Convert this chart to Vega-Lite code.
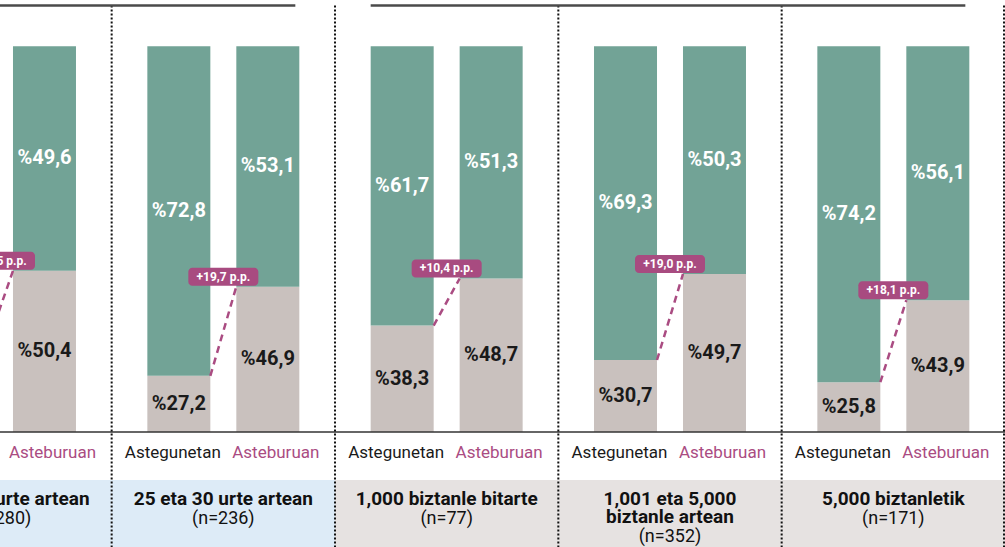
{
  "$schema": "https://vega.github.io/schema/vega-lite/v6.json",
  "width": 1005,
  "height": 547,
  "autosize": "none",
  "padding": 0,
  "background": "white",
  "config": {"view": {"stroke": null}, "axis": {"disable": true}, "font": "Roboto"},
  "datasets": {
    "bars": [
      {"panel": "18-24", "period": "Astegunetan", "beige": 33.9, "green": 66.1},
      {"panel": "18-24", "period": "Asteburuan", "beige": 50.4, "green": 49.6},
      {"panel": "25-30", "period": "Astegunetan", "beige": 27.2, "green": 72.8},
      {"panel": "25-30", "period": "Asteburuan", "beige": 46.9, "green": 53.1},
      {"panel": "-1000", "period": "Astegunetan", "beige": 38.3, "green": 61.7},
      {"panel": "-1000", "period": "Asteburuan", "beige": 48.7, "green": 51.3},
      {"panel": "1001-5000", "period": "Astegunetan", "beige": 30.7, "green": 69.3},
      {"panel": "1001-5000", "period": "Asteburuan", "beige": 49.7, "green": 50.3},
      {"panel": "5000+", "period": "Astegunetan", "beige": 25.8, "green": 74.2},
      {"panel": "5000+", "period": "Asteburuan", "beige": 43.9, "green": 56.1}
    ],
    "panels": [
      {"panel": "18-24", "group": "adina", "title": ["18 eta 24 urte artean"], "n": "(n=280)", "weekday": 33.9, "weekend": 50.4, "diff": "+16,5 p.p."},
      {"panel": "25-30", "group": "adina", "title": ["25 eta 30 urte artean"], "n": "(n=236)", "weekday": 27.2, "weekend": 46.9, "diff": "+19,7 p.p."},
      {"panel": "-1000", "group": "tamaina", "title": ["1,000 biztanle bitarte"], "n": "(n=77)", "weekday": 38.3, "weekend": 48.7, "diff": "+10,4 p.p."},
      {"panel": "1001-5000", "group": "tamaina", "title": ["1,001 eta 5,000", "biztanle artean"], "n": "(n=352)", "weekday": 30.7, "weekend": 49.7, "diff": "+19,0 p.p."},
      {"panel": "5000+", "group": "tamaina", "title": ["5,000 biztanletik"], "n": "(n=171)", "weekday": 25.8, "weekend": 43.9, "diff": "+18,1 p.p."}
    ],
    "headers": [
      {"from": "18-24", "to": "25-30"},
      {"from": "-1000", "to": "5000+"}
    ],
    "one": [{"k": 1}]
  },
  "layer": [
    {
      "data": {"name": "bars"},
      "mark": {"type": "bar", "color": "#C9C1BE"},
      "encoding": {
        "x": {"field": "panel", "type": "nominal", "axis": null,
              "scale": {"domain": ["18-24", "25-30", "-1000", "1001-5000", "5000+"], "range": [-111.67, 1005], "paddingInner": 0, "paddingOuter": 0}},
        "xOffset": {"field": "period", "type": "nominal",
              "scale": {"domain": ["Astegunetan", "Asteburuan"], "paddingInner": 0.292, "paddingOuter": 0.401}},
        "y": {"field": "beige", "type": "quantitative", "axis": null,
              "scale": {"domain": [-10.6, 110.2], "nice": false, "zero": false}}
      }
    },
    {
      "data": {"name": "bars"},
      "mark": {"type": "bar", "color": "#72A396"},
      "encoding": {
        "x": {"field": "panel", "type": "nominal"},
        "xOffset": {"field": "period", "type": "nominal"},
        "y": {"field": "beige", "type": "quantitative"},
        "y2": {"datum": 100}
      }
    },
    {
      "data": {"name": "one"},
      "mark": {"type": "rect", "color": "white"},
      "encoding": {"y": {"datum": 14.8}, "y2": {"datum": 4.2}}
    },
    {
      "data": {"name": "panels"},
      "mark": {"type": "rect"},
      "encoding": {
        "x": {"field": "panel", "type": "nominal"},
        "y": {"datum": 4.2},
        "y2": {"datum": -10.6},
        "color": {"condition": {"test": "datum.group === 'adina'", "value": "#DDEBF7"}, "value": "#E6E2E1"}
      }
    },
    {
      "data": {"name": "one"},
      "mark": {"type": "rule", "color": "#333333", "strokeWidth": 1.5},
      "encoding": {"y": {"datum": 14.8}}
    },
    {
      "data": {"name": "panels"},
      "mark": {"type": "rule", "color": "#111111", "strokeWidth": 2, "strokeDash": [2, 2]},
      "encoding": {
        "x": {"field": "panel", "type": "nominal", "bandPosition": 0},
        "y": {"datum": 109},
        "y2": {"datum": -10.6}
      }
    },
    {
      "data": {"name": "panels"},
      "transform": [{"filter": "datum.panel === '5000+'"}],
      "mark": {"type": "rule", "color": "#111111", "strokeWidth": 2, "strokeDash": [2, 2], "xOffset": -1, "x2Offset": -1},
      "encoding": {
        "x": {"field": "panel", "type": "nominal", "bandPosition": 1},
        "y": {"datum": 109},
        "y2": {"datum": -10.6}
      }
    },
    {
      "data": {"name": "headers"},
      "mark": {"type": "rule", "color": "#4A4A4A", "strokeWidth": 2.5, "xOffset": -76, "x2Offset": 72},
      "encoding": {
        "x": {"field": "from", "type": "nominal"},
        "x2": {"field": "to"},
        "y": {"datum": 109}
      }
    },
    {
      "data": {"name": "panels"},
      "mark": {"type": "rule", "color": "#AA4C82", "strokeWidth": 2.5, "strokeDash": [7, 5], "xOffset": -13, "x2Offset": 13},
      "encoding": {
        "x": {"field": "panel", "type": "nominal"},
        "x2": {"field": "panel"},
        "y": {"field": "weekday", "type": "quantitative"},
        "y2": {"field": "weekend"}
      }
    },
    {
      "data": {"name": "panels"},
      "mark": {"type": "rect", "color": "#A84B80", "width": 70, "cornerRadius": 4, "yOffset": -19, "y2Offset": -1},
      "encoding": {
        "x": {"field": "panel", "type": "nominal"},
        "y": {"field": "weekend", "type": "quantitative"},
        "y2": {"field": "weekend"}
      }
    },
    {
      "data": {"name": "panels"},
      "mark": {"type": "text", "color": "white", "fontWeight": "bold", "fontSize": 12, "baseline": "middle", "yOffset": -10},
      "encoding": {
        "x": {"field": "panel", "type": "nominal"},
        "y": {"field": "weekend", "type": "quantitative"},
        "text": {"field": "diff"}
      }
    },
    {
      "data": {"name": "bars"},
      "transform": [
        {"calculate": "'%' + replace(format(datum.green, '.1f'), '.', ',')", "as": "lab"},
        {"calculate": "(datum.beige + 100) / 2", "as": "mid"}
      ],
      "mark": {"type": "text", "color": "white", "fontWeight": "bold", "fontSize": 20, "baseline": "middle"},
      "encoding": {
        "x": {"field": "panel", "type": "nominal"},
        "xOffset": {"field": "period", "type": "nominal"},
        "y": {"field": "mid", "type": "quantitative"},
        "text": {"field": "lab"}
      }
    },
    {
      "data": {"name": "bars"},
      "transform": [
        {"calculate": "'%' + replace(format(datum.beige, '.1f'), '.', ',')", "as": "lab"},
        {"calculate": "(datum.beige + 14.8) / 2", "as": "mid"}
      ],
      "mark": {"type": "text", "color": "#1A1A1A", "fontWeight": "bold", "fontSize": 20, "baseline": "middle"},
      "encoding": {
        "x": {"field": "panel", "type": "nominal"},
        "xOffset": {"field": "period", "type": "nominal"},
        "y": {"field": "mid", "type": "quantitative"},
        "text": {"field": "lab"}
      }
    },
    {
      "data": {"name": "bars"},
      "transform": [{"filter": "datum.period === 'Astegunetan'"}],
      "mark": {"type": "text", "color": "#1A1A1A", "fontSize": 17, "baseline": "middle", "dx": -6},
      "encoding": {
        "x": {"field": "panel", "type": "nominal"},
        "xOffset": {"field": "period", "type": "nominal"},
        "y": {"datum": 10.2},
        "text": {"field": "period"}
      }
    },
    {
      "data": {"name": "bars"},
      "transform": [{"filter": "datum.period === 'Asteburuan'"}],
      "mark": {"type": "text", "color": "#AA4C82", "fontSize": 17, "baseline": "middle", "dx": 8},
      "encoding": {
        "x": {"field": "panel", "type": "nominal"},
        "xOffset": {"field": "period", "type": "nominal"},
        "y": {"datum": 10.2},
        "text": {"field": "period"}
      }
    },
    {
      "data": {"name": "panels"},
      "mark": {"type": "text", "color": "#111111", "fontWeight": "bold", "fontSize": 19, "baseline": "alphabetic", "lineHeight": 18.5},
      "encoding": {
        "x": {"field": "panel", "type": "nominal"},
        "y": {"datum": -1.3},
        "text": {"field": "title"}
      }
    },
    {
      "data": {"name": "panels"},
      "transform": [{"filter": "length(datum.title) == 1"}],
      "mark": {"type": "text", "color": "#111111", "fontSize": 18, "baseline": "alphabetic"},
      "encoding": {
        "x": {"field": "panel", "type": "nominal"},
        "y": {"datum": -5.5},
        "text": {"field": "n"}
      }
    },
    {
      "data": {"name": "panels"},
      "transform": [{"filter": "length(datum.title) == 2"}],
      "mark": {"type": "text", "color": "#111111", "fontSize": 18, "baseline": "alphabetic"},
      "encoding": {
        "x": {"field": "panel", "type": "nominal"},
        "y": {"datum": -9.5},
        "text": {"field": "n"}
      }
    }
  ]
}
